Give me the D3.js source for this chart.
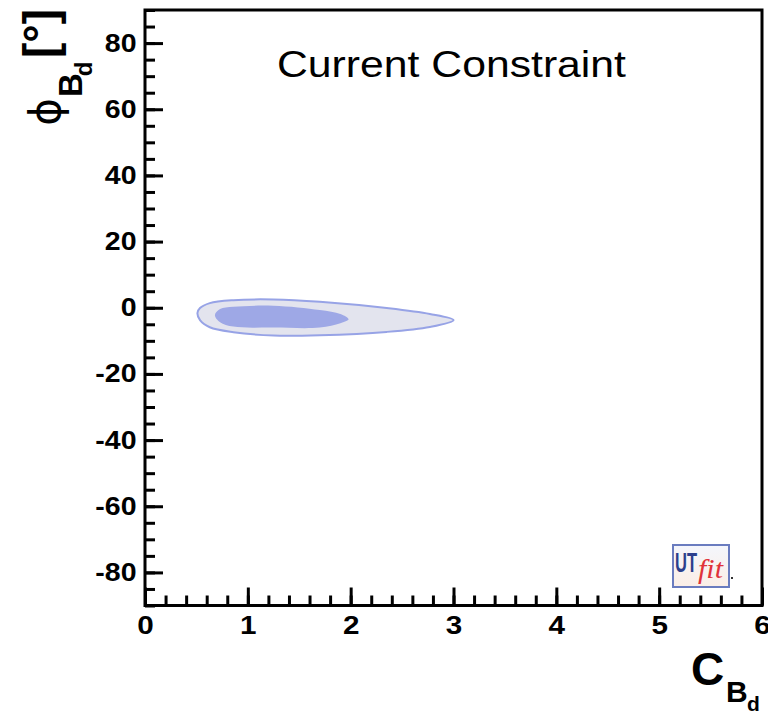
<!DOCTYPE html>
<html>
<head>
<meta charset="utf-8">
<script src="https://cdn.jsdelivr.net/npm/d3@7"></script>
<style>
  body { margin: 0; background: #fff; }
  svg { display: block; }
</style>
</head>
<body>
<div id="chart"></div>
<script>
//Axes: ranges and ticks
var xDomain = [0, 6];
var yDomain = [-90, 90];
var xTicks = [0, 1, 2, 3, 4, 5, 6];
var yTicks = [-80, -60, -40, -20, 0, 20, 40, 60, 80];

//Contours: C_Bd, phi_Bd (degrees)
var outerC = [0.51, 0.535, 0.63, 0.86, 1.25, 1.70, 2.35, 2.77, 3.00, 2.77, 2.35, 1.70, 1.25, 0.86, 0.63, 0.535];
var outerPhi = [-1.6, -0.1, 1.4, 2.3, 2.5, 1.8, -0.1, -1.9, -3.75, -5.8, -7.3, -8.3, -8.4, -7.4, -5.9, -3.75];
var innerC = [0.68, 0.73, 0.86, 1.25, 1.70, 1.90, 1.98, 1.90, 1.70, 1.25, 0.86, 0.73];
var innerPhi = [-2.2, -0.4, 0.3, 0.6, -0.7, -1.9, -3.5, -4.7, -6.0, -6.0, -5.7, -4.35];

//Colors
var colorAxis = "black";
var colorOuter = "#e3e4ee";
var colorOuterLine = "#97a3e6";
var colorInner = "#9ea8e6";

var width = 768, height = 712;
var plotLeft = 145, plotRight = 762, plotTop = 10, plotBottom = 605.5;
var font = "Liberation Sans, Arial, sans-serif";
var stretch = 1.14;

var svg = d3.select("#chart").append("svg")
    .attr("width", width)
    .attr("height", height);

var x = d3.scaleLinear().domain(xDomain).range([plotLeft, plotRight]);
var y = d3.scaleLinear().domain(yDomain).range([plotBottom, plotTop]);

var line = d3.line()
    .x(function(d) { return x(d[0]); })
    .y(function(d) { return y(d[1]); })
    .curve(d3.curveCatmullRomClosed);

var outerPts = outerC.map(function(c, i) { return [c, outerPhi[i]]; });
var innerPts = innerC.map(function(c, i) { return [c, innerPhi[i]]; });

svg.append("path")
    .attr("d", line(outerPts))
    .attr("fill", colorOuter)
    .attr("stroke", colorOuterLine)
    .attr("stroke-width", 2);

svg.append("path")
    .attr("d", line(innerPts))
    .attr("fill", colorInner);

//Minor ticks
var xMinor = d3.range(0, 6.001, 0.2);
var yMinor = d3.range(-90, 90.001, 5);

svg.append("g")
    .attr("transform", "translate(0," + plotBottom + ")")
    .call(d3.axisBottom(x).tickValues(xMinor).tickSize(-10).tickSizeOuter(0).tickFormat(""))
    .call(function(g) { g.select(".domain").remove(); });

svg.append("g")
    .attr("transform", "translate(" + plotLeft + ",0)")
    .call(d3.axisLeft(y).tickValues(yMinor).tickSize(-10).tickSizeOuter(0).tickFormat(""))
    .call(function(g) { g.select(".domain").remove(); });

//Major ticks with labels (plain hyphen for negatives)
var plain = function(d) { return String(d); };

var xAxis = svg.append("g")
    .attr("transform", "translate(0," + plotBottom + ")")
    .call(d3.axisBottom(x).tickValues(xTicks).tickSize(-18).tickSizeOuter(0).tickPadding(10).tickFormat(plain));
xAxis.select(".domain").remove();
xAxis.attr("font-family", font).attr("font-size", 26).attr("font-weight", "bold");
xAxis.selectAll("text")
    .attr("fill", colorAxis)
    .attr("transform", "scale(" + stretch + ",1)");

var yAxis = svg.append("g")
    .attr("transform", "translate(" + plotLeft + ",0)")
    .call(d3.axisLeft(y).tickValues(yTicks).tickSize(-18).tickSizeOuter(0).tickPadding(9).tickFormat(plain));
yAxis.select(".domain").remove();
yAxis.attr("font-family", font).attr("font-size", 25).attr("font-weight", "bold");
yAxis.selectAll("text")
    .attr("fill", colorAxis)
    .attr("x", -8.5 / stretch)
    .attr("transform", "scale(" + stretch + ",1)");

svg.selectAll(".tick line")
    .attr("stroke", colorAxis)
    .attr("stroke-width", 3);

//Frame
svg.append("rect")
    .attr("x", plotLeft)
    .attr("y", plotTop)
    .attr("width", plotRight - plotLeft)
    .attr("height", plotBottom - plotTop)
    .attr("fill", "none")
    .attr("stroke", colorAxis)
    .attr("stroke-width", 3);

//Title
svg.append("text")
    .text("Current Constraint")
    .attr("x", 277)
    .attr("y", 77)
    .attr("textLength", 349)
    .attr("lengthAdjust", "spacingAndGlyphs")
    .attr("font-family", font)
    .attr("font-size", 37)
    .attr("fill", colorAxis);

//Y axis title (rotated)
function rotText(str, tx, ty, size, weight, fam) {
    return svg.append("text")
        .text(str)
        .attr("transform", "translate(" + tx + "," + ty + ") rotate(-90)")
        .attr("text-anchor", "middle")
        .attr("font-family", fam || font)
        .attr("font-weight", weight || "bold")
        .attr("font-size", size)
        .attr("fill", colorAxis);
}
rotText("\u03D5", 60, 112, 42, "normal", "DejaVu Sans, sans-serif");
rotText("B", 82, 85, 33);
rotText("d", 92, 69, 24);
rotText("[\u00B0]", 56, 33.5, 46);

//X axis title
svg.append("text").text("C")
    .attr("x", 691).attr("y", 685)
    .attr("font-family", font).attr("font-weight", "bold").attr("font-size", 46)
    .attr("fill", colorAxis);
svg.append("text").text("B")
    .attr("x", 726).attr("y", 702)
    .attr("font-family", font).attr("font-weight", "bold").attr("font-size", 30)
    .attr("fill", colorAxis);
svg.append("text").text("d")
    .attr("x", 747).attr("y", 711)
    .attr("font-family", font).attr("font-weight", "bold").attr("font-size", 21)
    .attr("fill", colorAxis);

//Logo
var defs = svg.append("defs");
var grad = defs.append("linearGradient").attr("id", "logoGrad")
    .attr("x1", 0).attr("y1", 0).attr("x2", 0).attr("y2", 1);
grad.append("stop").attr("offset", "0%").attr("stop-color", "#f4f6fc");
grad.append("stop").attr("offset", "100%").attr("stop-color", "#fbeee6");

var logo = svg.append("g").attr("transform", "translate(673,545)");
logo.append("rect")
    .attr("width", 56).attr("height", 42)
    .attr("fill", "url(#logoGrad)")
    .attr("stroke", "#6a7cbf").attr("stroke-width", 2);
logo.append("text").text("UT")
    .attr("x", 2).attr("y", 27)
    .attr("textLength", 22).attr("lengthAdjust", "spacingAndGlyphs")
    .attr("font-family", font).attr("font-weight", "bold").attr("font-size", 27)
    .attr("fill", "#2c3f8c");
logo.append("text").text("fit")
    .attr("x", 25).attr("y", 33)
    .attr("textLength", 25).attr("lengthAdjust", "spacingAndGlyphs")
    .attr("font-family", "Liberation Serif, serif").attr("font-style", "italic").attr("font-size", 27)
    .attr("fill", "#e0323a");
svg.append("rect").attr("x", 731).attr("y", 577).attr("width", 2).attr("height", 2).attr("fill", "#333");
</script>
</body>
</html>
